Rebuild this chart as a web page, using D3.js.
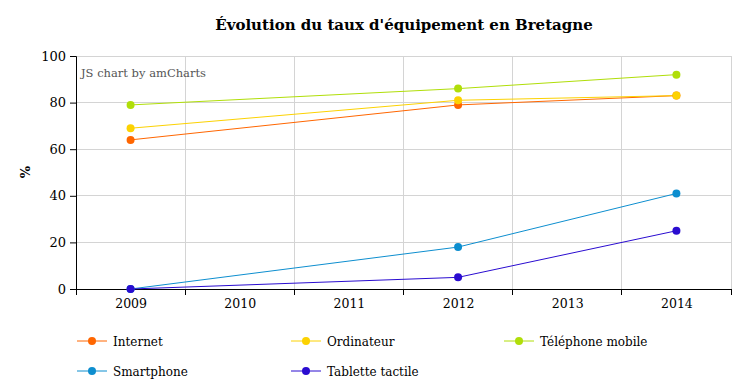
<!DOCTYPE html>
<html><head><meta charset="utf-8">
<script src="https://cdn.jsdelivr.net/npm/d3@7"></script>
<style>body{margin:0;background:#fff}svg{display:block;font-family:"DejaVu Serif",serif}</style>
</head><body><svg id="c" width="753" height="392"></svg>
<script>
const years = [2009, 2010, 2011, 2012, 2013, 2014];
const yTicks = [0, 20, 40, 60, 80, 100];
const seriesNames = ["Internet", "Ordinateur", "Téléphone mobile", "Smartphone", "Tablette tactile"];
const seriesColors = ["#FF6600", "#FCD202", "#B0DE09", "#0D8ECF", "#2A0CD0"];
const internet = [[2009, 64], [2012, 79], [2014, 83]];
const ordinateur = [[2009, 69], [2012, 81], [2014, 83]];
const telephone = [[2009, 79], [2012, 86], [2014, 92]];
const smartphone = [[2009, 0], [2012, 18], [2014, 41]];
const tablette = [[2009, 0], [2012, 5], [2014, 25]];
const seriesData = [internet, ordinateur, telephone, smartphone, tablette];

const svg = d3.select("#c");
const L = 76, R = 731, T = 56, B = 289;
const x = d3.scaleLinear().domain([2008.5, 2014.5]).range([L, R]);
const y = d3.scaleLinear().domain([0, 100]).range([B, T]);

svg.append("text").attr("x", 404).attr("y", 30).attr("text-anchor", "middle")
  .attr("font-weight", "bold").attr("font-size", 15).text("Évolution du taux d'équipement en Bretagne");

// grid
const g = svg.append("g");
g.selectAll(".hg").data(yTicks.filter(d => d > 0)).join("line")
  .attr("x1", L).attr("x2", R).attr("y1", d => y(d)).attr("y2", d => y(d))
  .attr("stroke", "#d4d4d4").attr("stroke-width", 1).attr("shape-rendering", "crispEdges");
const bounds = d3.range(2009.5, 2015, 1);
g.selectAll(".vg").data(bounds).join("line")
  .attr("x1", d => x(d)).attr("x2", d => x(d)).attr("y1", T).attr("y2", B)
  .attr("stroke", "#d4d4d4").attr("stroke-width", 1).attr("shape-rendering", "crispEdges");

svg.append("text").attr("x", 81).attr("y", 77).attr("font-size", 11.5).attr("fill", "#555")
  .text("JS chart by amCharts");

// axes
const yAxis = d3.axisLeft(y).tickValues(yTicks).tickSize(6).tickPadding(4);
const ya = svg.append("g").attr("transform", `translate(${L},0)`).call(yAxis);
ya.selectAll("text").attr("font-size", 13).attr("font-family", "DejaVu Serif").attr("fill", "#000");

const xAxis = d3.axisBottom(x).tickValues(years).tickFormat(d3.format("d")).tickSize(0).tickPadding(10);
const xa = svg.append("g").attr("transform", `translate(0,${B})`).call(xAxis);
xa.select(".domain").remove();
xa.selectAll("text").attr("font-size", 12.5).attr("font-family", "DejaVu Serif").attr("fill", "#000");
svg.append("g").selectAll("line").data([2008.5].concat(bounds)).join("line")
  .attr("x1", d => x(d)).attr("x2", d => x(d)).attr("y1", B).attr("y2", B + 6)
  .attr("stroke", "#000").attr("shape-rendering", "crispEdges");
svg.append("line").attr("x1", L).attr("x2", R).attr("y1", B).attr("y2", B)
  .attr("stroke", "#000").attr("shape-rendering", "crispEdges");
ya.select(".domain").attr("stroke", "#000");

svg.append("text").attr("transform", "translate(30,172) rotate(-90)").attr("text-anchor", "middle")
  .attr("font-weight", "bold").attr("font-size", 13).text("%");

// lines
const line = d3.line().x(d => x(d[0])).y(d => y(d[1]));
seriesData.forEach((s, i) => {
  svg.append("path").attr("d", line(s)).attr("fill", "none")
    .attr("stroke", seriesColors[i]).attr("stroke-width", 1);
});
seriesData.forEach((s, i) => {
  svg.append("g").selectAll("circle").data(s).join("circle")
    .attr("cx", d => x(d[0])).attr("cy", d => y(d[1])).attr("r", 4).attr("fill", seriesColors[i]);
});

// legend
const legPos = [[77, 341], [291, 341], [504, 341], [77, 371], [291, 371]];
seriesNames.forEach((n, i) => {
  const [lx, ly] = legPos[i];
  const lg = svg.append("g").attr("transform", `translate(${lx},${ly})`);
  lg.append("line").attr("x1", 0).attr("x2", 30).attr("y1", 0).attr("y2", 0).attr("stroke", seriesColors[i]);
  lg.append("circle").attr("cx", 15).attr("cy", 0).attr("r", 4).attr("fill", seriesColors[i]);
  lg.append("text").attr("x", 36).attr("y", 4.5).attr("font-size", 12).attr("fill", "#000").text(n);
});
</script></body></html>
